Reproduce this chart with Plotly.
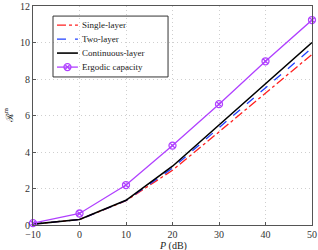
import plotly.graph_objects as go

P_dB = [-10, 0, 10, 20, 30, 40, 50]
single_layer = [0.05, 0.3, 1.33, 3.0, 5.1, 7.2, 9.35]
two_layer = [0.05, 0.3, 1.34, 3.12, 5.33, 7.52, 9.7]
continuous_layer = [0.05, 0.3, 1.35, 3.22, 5.48, 7.75, 10.0]
ergodic = [0.1, 0.63, 2.19, 4.35, 6.62, 8.97, 11.23]
names = ["Single-layer", "Two-layer", "Continuous-layer", "Ergodic capacity"]
x_ticks = [-10, 0, 10, 20, 30, 40, 50]
y_ticks = [0, 2, 4, 6, 8, 10, 12]

font = "Liberation Serif"
styles = [
    dict(color="#ff2020", width=1.3, dash="dashdot"),
    dict(color="#2040ff", width=1.3, dash="dash"),
    dict(color="black", width=1.6),
    dict(color="#b040ff", width=1.3),
]
mk = dict(symbol="circle-x-open", size=7, color="#b040ff", line=dict(width=1.3, color="#b040ff"))

fig = go.Figure()
for name, ys, st in zip(names, [single_layer, two_layer, continuous_layer, ergodic], styles):
    is_erg = name == "Ergodic capacity"
    fig.add_trace(go.Scatter(x=P_dB, y=ys, mode="lines+markers" if is_erg else "lines",
                             name=name, line=st, marker=mk if is_erg else None,
                             cliponaxis=False, showlegend=False))

# manual legend (drawn on an overlay axis spanning the plot area, range 0..1)
row_y = [0.913, 0.849, 0.785, 0.721]
lx0, lx1, tx = 0.086, 0.161, 0.168
for name, yv, st in zip(names, row_y, styles):
    is_erg = name == "Ergodic capacity"
    fig.add_trace(go.Scatter(x=[lx0, lx1], y=[yv, yv], mode="lines", line=st,
                             xaxis="x2", yaxis="y2", showlegend=False, hoverinfo="skip"))
    if is_erg:
        fig.add_trace(go.Scatter(x=[(lx0 + lx1) / 2], y=[yv], mode="markers", marker=mk,
                                 xaxis="x2", yaxis="y2", showlegend=False, hoverinfo="skip"))
    fig.add_annotation(x=tx, y=yv, xref="paper", yref="paper", text=name, showarrow=False,
                       xanchor="left", yanchor="middle",
                       font=dict(family=font, size=9, color="#222222"))
fig.add_shape(type="rect", xref="paper", yref="paper", x0=0.0717, x1=0.484, y0=0.676, y1=0.954,
              line=dict(color="#333333", width=1), fillcolor="rgba(0,0,0,0)", layer="above")

axis_common = dict(showgrid=True, gridcolor="#cfcfcf", griddash="1px,3px", gridwidth=1,
                   showline=True, linecolor="#555555", linewidth=1, mirror=True,
                   ticks="inside", ticklen=3, tickcolor="#555555", zeroline=False,
                   automargin=False,
                   tickfont=dict(family=font, size=10, color="#333333"))
fig.update_xaxes(range=[-10, 50], tickvals=x_ticks, **axis_common)
fig.update_yaxes(range=[0, 12], tickvals=y_ticks, **axis_common)

fig.add_annotation(x=0.5, y=-0.058, xref="paper", yref="paper", yanchor="top",
                   text="<i>P</i> (dB)", showarrow=False,
                   font=dict(family=font, size=10, color="#222222"))
fig.add_annotation(x=-0.09, y=0.5, xref="paper", yref="paper", xanchor="center",
                   text="ℛ<sup>m</sup>", textangle=-90, showarrow=False,
                   font=dict(family=font, size=10, color="#222222"))

fig.update_layout(
    width=318, height=250,
    margin=dict(l=33, r=6, t=6, b=25),
    paper_bgcolor="white", plot_bgcolor="white",
    showlegend=False,
    xaxis2=dict(overlaying="x", range=[0, 1], visible=False, fixedrange=True),
    yaxis2=dict(overlaying="y", range=[0, 1], visible=False, fixedrange=True),
)
fig.write_html("out.html", config={"displayModeBar": False},
               post_script="document.body.style.margin='0';document.body.style.padding='0';")
